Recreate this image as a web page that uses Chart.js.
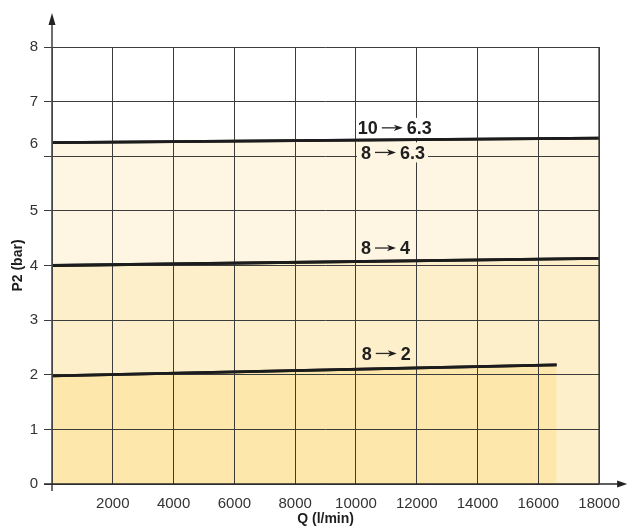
<!DOCTYPE html>
<html lang="en">
<head>
<meta charset="UTF-8">
<title>P2 (bar) vs Q (l/min)</title>
<script src="https://cdn.jsdelivr.net/npm/chart.js"></script>
<style>
    * { margin: 0; padding: 0; box-sizing: border-box; }
    body { background: #fff; width: 631px; height: 528px; overflow: hidden; }
    #wrap { position: relative; width: 631px; height: 528px; }
</style>
</head>
<body>
<div id="wrap"><canvas id="chart" width="631" height="528"></canvas></div>
<script>
// end points of each regulator curve: flow Q (l/min) and outlet pressure P2 (bar)
const flow10to63 = [0, 18000];
const p2_10to63 = [6.25, 6.33];
const flow8to4 = [0, 18000];
const p2_8to4 = [4.0, 4.13];
const flow8to2 = [0, 16600];
const p2_8to2 = [1.98, 2.18];

const xTicks = [0, 2000, 4000, 6000, 8000, 10000, 12000, 14000, 16000, 18000];
const yTicks = [0, 1, 2, 3, 4, 5, 6, 7, 8];
// the printed "6" sits a bit above its own gridline in the original
const yLabelSpots = [0, 1, 2, 3, 4, 5, 6.22, 7, 8];

const curveNames = ['10 \u2192 6.3', '8 \u2192 6.3', '8 \u2192 4', '8 \u2192 2'];

function pts(xs, ys) {
    return xs.map((x, i) => ({ x: x, y: ys[i] }));
}

const GRID = '#3c3c3c';
const FONT = 'Arial, "Liberation Sans", Helvetica, sans-serif';

// writes "a → b" with a drawn arrow like the printed chart
function drawName(ctx, name, x, yc, bg, bgLeft) {
    const parts = name.split(' \u2192 ');
    const wa = ctx.measureText(parts[0]).width;
    const wb = ctx.measureText(parts[1]).width;
    const gap = 4, arr = 21;
    const total = wa + gap + arr + gap + wb;
    if (bg) {
        ctx.fillStyle = bg;
        ctx.fillRect(bgLeft, yc - 10, x + total + 3 - bgLeft, 20);
    }
    ctx.fillStyle = '#1e1e1e';
    ctx.fillText(parts[0], x, yc + 6.4);
    const ax = x + wa + gap;
    ctx.strokeStyle = '#2a2a2a';
    ctx.lineWidth = 1.3;
    ctx.beginPath();
    ctx.moveTo(ax, yc);
    ctx.lineTo(ax + arr - 6, yc);
    ctx.stroke();
    ctx.beginPath();
    ctx.moveTo(ax + arr, yc);
    ctx.lineTo(ax + arr - 9, yc - 3.2);
    ctx.lineTo(ax + arr - 6.5, yc);
    ctx.lineTo(ax + arr - 9, yc + 3.2);
    ctx.closePath();
    ctx.fill();
    ctx.fillText(parts[1], ax + arr + gap, yc + 6.4);
}

// draws axis arrows, puts the curve lines back over the grid, and writes the curve names
const decor = {
    id: 'decor',
    afterDraw(chart) {
        const ctx = chart.ctx;
        const xs = chart.scales.x, ys = chart.scales.y;
        const area = chart.chartArea;

        chart.data.datasets.forEach((d, i) => {
            const meta = chart.getDatasetMeta(i);
            ctx.save();
            meta.dataset.draw(ctx, area);
            ctx.restore();
        });

        const x0 = xs.getPixelForValue(0);
        const y0 = ys.getPixelForValue(0);
        ctx.save();
        ctx.strokeStyle = '#4a4a4a';
        ctx.fillStyle = '#222';
        ctx.lineWidth = 1.6;
        // y axis
        ctx.beginPath();
        ctx.moveTo(x0, y0 + 7);
        ctx.lineTo(x0, area.top - 28);
        ctx.stroke();
        ctx.beginPath();
        ctx.moveTo(x0, area.top - 34);
        ctx.lineTo(x0 - 3.5, area.top - 22);
        ctx.lineTo(x0 + 3.5, area.top - 22);
        ctx.closePath();
        ctx.fill();
        // x axis
        ctx.lineWidth = 1.4;
        ctx.strokeStyle = '#2a2a2a';
        ctx.beginPath();
        ctx.moveTo(x0 - 8, y0);
        ctx.lineTo(area.right + 22, y0);
        ctx.stroke();
        ctx.beginPath();
        ctx.moveTo(area.right + 28, y0);
        ctx.lineTo(area.right + 18, y0 - 3.5);
        ctx.lineTo(area.right + 18, y0 + 3.5);
        ctx.closePath();
        ctx.fill();
        // right frame
        ctx.lineWidth = 1.6;
        ctx.strokeStyle = '#3a3a3a';
        ctx.beginPath();
        ctx.moveTo(area.right, area.top);
        ctx.lineTo(area.right, y0);
        ctx.stroke();

        // curve names; the two top ones are cut out of the grid from the 10000 line onwards
        const gridCut = xs.getPixelForValue(10000) + 1;
        const notes = [
            { name: curveNames[0], q: 10060, p: 6.52, bg: '#ffffff' },
            { name: curveNames[1], q: 10165, p: 6.07, bg: '#fef6e2' },
            { name: curveNames[2], q: 10165, p: 4.32, bg: null },
            { name: curveNames[3], q: 10190, p: 2.39, bg: null }
        ];
        ctx.font = 'bold 18px ' + FONT;
        ctx.textAlign = 'left';
        ctx.textBaseline = 'alphabetic';
        notes.forEach(n => {
            drawName(ctx, n.name, xs.getPixelForValue(n.q), ys.getPixelForValue(n.p), n.bg, gridCut);
        });
        ctx.restore();
    }
};

new Chart(document.getElementById('chart').getContext('2d'), {
    type: 'line',
    data: {
        datasets: [
            {
                label: curveNames[3],
                data: pts(flow8to2, p2_8to2),
                borderColor: '#1c1c1c',
                borderWidth: 2.8,
                backgroundColor: '#fde7aa',
                fill: 'origin',
                pointRadius: 0
            },
            {
                label: curveNames[2],
                data: pts(flow8to4, p2_8to4),
                borderColor: '#1c1c1c',
                borderWidth: 2.8,
                backgroundColor: '#fdefc9',
                fill: 'origin',
                pointRadius: 0
            },
            {
                label: curveNames[0],
                data: pts(flow10to63, p2_10to63),
                borderColor: '#1c1c1c',
                borderWidth: 2.8,
                backgroundColor: '#fef6e2',
                fill: 'origin',
                pointRadius: 0
            }
        ]
    },
    options: {
        responsive: false,
        devicePixelRatio: 1,
        animation: false,
        layout: { padding: { top: 47, right: 28, bottom: 0, left: 0 } },
        plugins: {
            legend: { display: false },
            tooltip: { enabled: false }
        },
        scales: {
            x: {
                type: 'linear',
                min: 0,
                max: 18000,
                afterBuildTicks: s => { s.ticks = xTicks.map(v => ({ value: v })); },
                afterFit: s => { s.height = 44; },
                border: { display: false },
                grid: {
                    z: 1,
                    color: GRID,
                    lineWidth: 1,
                    drawTicks: false
                },
                ticks: {
                    padding: 11,
                    color: '#333',
                    font: { family: FONT, size: 15 },
                    maxRotation: 0,
                    callback: v => (v === 0 ? '' : String(v))
                },
                title: {
                    display: true,
                    text: 'Q (l/min)',
                    color: '#1e1e1e',
                    font: { family: FONT, size: 14, weight: 'bold' },
                    padding: { top: 0, bottom: 0 }
                }
            },
            y: {
                type: 'linear',
                min: 0,
                max: 8,
                afterBuildTicks: s => {
                    const all = Array.from(new Set(yTicks.concat(yLabelSpots))).sort((a, b) => a - b);
                    s.ticks = all.map(v => ({ value: v }));
                },
                afterFit: s => { s.width = 52; },
                border: { display: false },
                grid: {
                    z: 1,
                    color: c => (yTicks.includes(c.tick.value) ? GRID : 'rgba(0,0,0,0)'),
                    lineWidth: 1,
                    drawTicks: true,
                    tickLength: 8,
                    tickColor: c => (yTicks.includes(c.tick.value) ? GRID : 'rgba(0,0,0,0)')
                },
                ticks: {
                    padding: 6,
                    color: '#333',
                    font: { family: FONT, size: 15 },
                    callback: v => {
                        const i = yLabelSpots.indexOf(v);
                        return i < 0 ? '' : String(yTicks[i]);
                    }
                },
                title: {
                    display: true,
                    text: 'P2 (bar)',
                    color: '#1e1e1e',
                    font: { family: FONT, size: 14, weight: 'bold' },
                    padding: { top: 10, bottom: 0 }
                }
            }
        }
    },
    plugins: [decor]
});
</script>
</body>
</html>
